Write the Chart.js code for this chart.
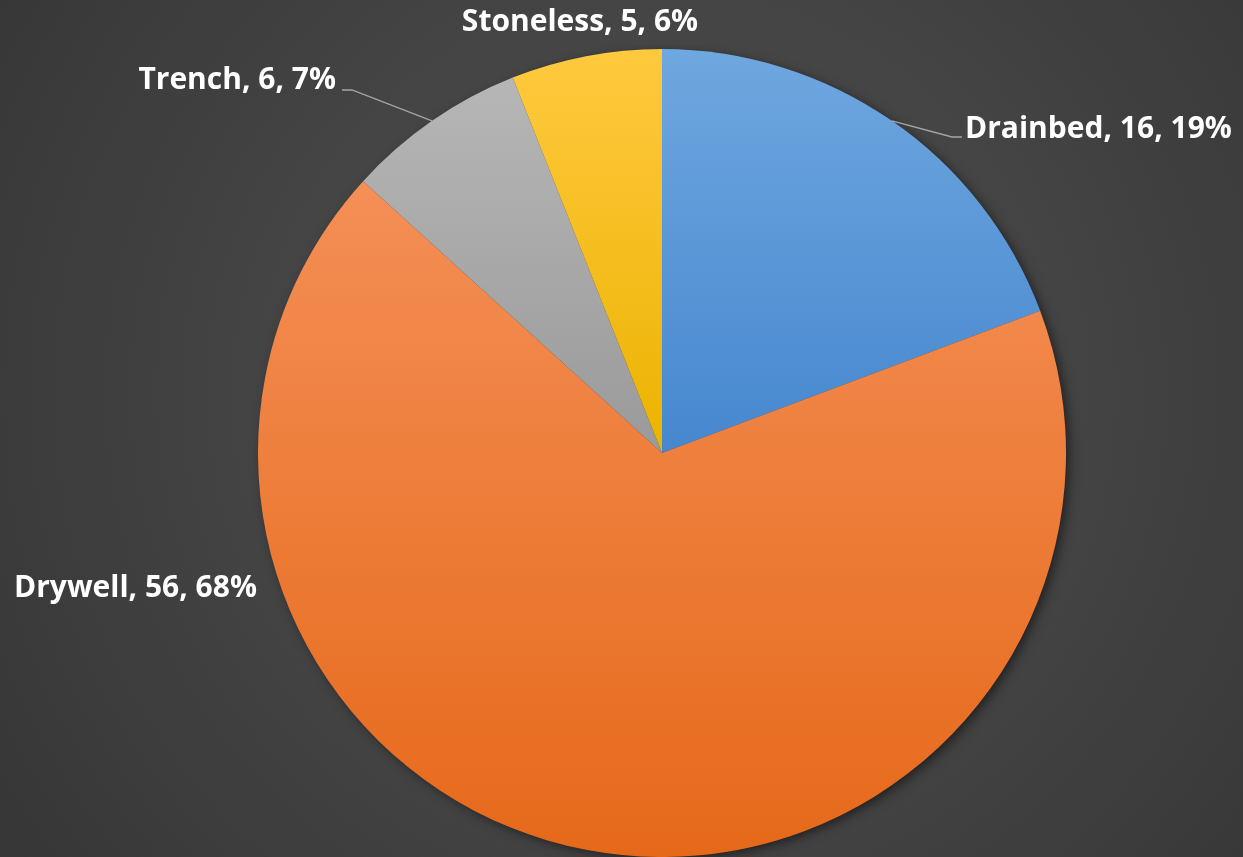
<!DOCTYPE html>
<html>
<head>
<meta charset="utf-8">
<script src="https://cdn.jsdelivr.net/npm/chart.js@4/dist/chart.umd.min.js"></script>
<style>
  html, body { margin: 0; padding: 0; background: #404040; }
  #wrap { width: 1243px; height: 857px; }
</style>
</head>
<body>
<div id="wrap"><canvas id="c" width="1243" height="857"></canvas></div>
<script>
// pie of system types, Excel dark style

const categories = ['Drainbed', 'Drywell', 'Trench', 'Stoneless'];
const counts = [16, 56, 6, 5];
const percentLabels = ['19%', '68%', '7%', '6%'];

// gradient top / bottom colours per slice
const topColors = ['#6fa7df', '#f48f56', '#b6b6b6', '#ffc93f'];
const bottomColors = ['#4687cf', '#e6691a', '#9a9a9a', '#ebb300'];

const labelFont = 'bold 30px "Open Sans", "Noto Sans", sans-serif';

// where each label sits: anchor side, text position and leader-line elbow (null = no leader)
const labelPlacement = [
  { align: 'left',   x: 965, y: 129, elbow: [952, 137], end: [962, 137] },
  { align: 'left',   x: 14,  y: 588, elbow: null },
  { align: 'right',  x: 336, y: 80,  elbow: [352, 90], end: [342, 90] },
  { align: 'center', x: 580, y: 22,  elbow: null },
];

function sliceYRange(arc) {
  const { y, startAngle, endAngle, outerRadius } = arc.getProps(['y', 'startAngle', 'endAngle', 'outerRadius'], true);
  const ys = [y, y + outerRadius * Math.sin(startAngle), y + outerRadius * Math.sin(endAngle)];
  for (const a of [Math.PI / 2, -Math.PI / 2, 3 * Math.PI / 2]) {
    if (a >= startAngle && a <= endAngle) ys.push(y + outerRadius * Math.sin(a));
  }
  return [Math.min(...ys), Math.max(...ys)];
}

const sliceStyle = {
  id: 'sliceStyle',
  beforeDraw(chart) {
    const { ctx, width, height } = chart;
    const meta = chart.getDatasetMeta(0);
    const cx = meta.data[0].x, cy = meta.data[0].y;
    const g = ctx.createRadialGradient(cx, cy - 60, 0, cx, cy - 60, 900);
    g.addColorStop(0, '#525252');
    g.addColorStop(1, '#333333');
    ctx.save();
    ctx.fillStyle = g;
    ctx.fillRect(0, 0, width, height);
    ctx.restore();
  },
  beforeDatasetsDraw(chart) {
    const { ctx } = chart;
    const meta = chart.getDatasetMeta(0);
    meta.data.forEach((arc, i) => {
      const [y0, y1] = sliceYRange(arc);
      const g = ctx.createLinearGradient(0, y0, 0, y1);
      g.addColorStop(0, topColors[i]);
      g.addColorStop(1, bottomColors[i]);
      arc.options.backgroundColor = g;
    });
    // soft drop shadow behind the whole pie
    const a = meta.data[0];
    ctx.save();
    ctx.shadowColor = 'rgba(0,0,0,0.55)';
    ctx.shadowBlur = 12;
    ctx.shadowOffsetX = 4;
    ctx.shadowOffsetY = 3;
    ctx.fillStyle = '#3a3a3a';
    ctx.beginPath();
    ctx.arc(a.x, a.y, a.outerRadius - 1, 0, Math.PI * 2);
    ctx.fill();
    ctx.restore();
  },
  afterDatasetsDraw(chart) {
    const { ctx } = chart;
    const meta = chart.getDatasetMeta(0);
    ctx.save();
    ctx.font = labelFont;
    ctx.fillStyle = '#ffffff';
    ctx.textBaseline = 'middle';
    meta.data.forEach((arc, i) => {
      const p = labelPlacement[i];
      const text = `${categories[i]}, ${counts[i]}, ${percentLabels[i]}`;
      if (p.elbow) {
        const mid = (arc.startAngle + arc.endAngle) / 2;
        const sx = arc.x + arc.outerRadius * Math.cos(mid);
        const sy = arc.y + arc.outerRadius * Math.sin(mid);
        ctx.strokeStyle = '#a6a6a6';
        ctx.lineWidth = 1.3;
        ctx.beginPath();
        ctx.moveTo(sx, sy);
        ctx.lineTo(p.elbow[0], p.elbow[1]);
        ctx.lineTo(p.end[0], p.end[1]);
        ctx.stroke();
      }
      ctx.textAlign = p.align;
      ctx.fillText(text, p.x, p.y);
    });
    ctx.restore();
  }
};

new Chart(document.getElementById('c'), {
  type: 'pie',
  data: {
    labels: categories,
    datasets: [{
      data: counts,
      backgroundColor: topColors,
      borderWidth: 0,
      hoverOffset: 0,
    }]
  },
  options: {
    responsive: false,
    animation: false,
    layout: { padding: { top: 49, bottom: 0, left: 81, right: 0 } },
    plugins: {
      legend: { display: false },
      tooltip: { enabled: false },
    },
  },
  plugins: [sliceStyle],
});
</script>
</body>
</html>
